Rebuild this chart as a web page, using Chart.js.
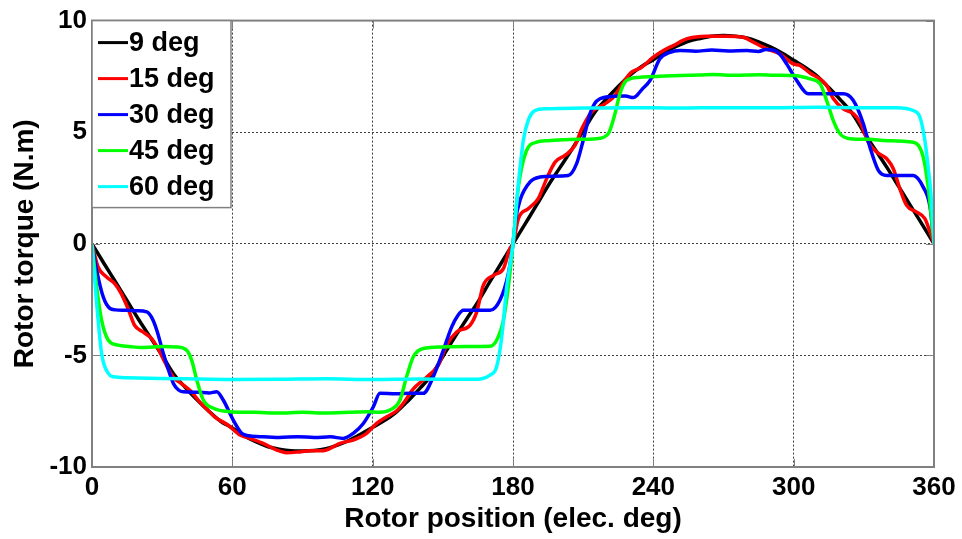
<!DOCTYPE html>
<html>
<head>
<meta charset="utf-8">
<script src="https://cdn.jsdelivr.net/npm/chart.js@4/dist/chart.umd.min.js"></script>
<style>
  html, body { margin: 0; padding: 0; background: #ffffff; }
  #wrap { width: 962px; height: 539px; }
</style>
</head>
<body>
<div id="wrap"><canvas id="c" width="962" height="539"></canvas></div>
<script>
// ---------- data ----------
const seriesNames = ['9 deg', '15 deg', '30 deg', '45 deg', '60 deg'];
const xTicks = [0, 60, 120, 180, 240, 300, 360];
const yTicks = [-10, -5, 0, 5, 10];

// 9 deg (black), rotor position (elec. deg) / torque (N.m)
const x9 = [0,5,10,15,20,25,30,35,40,45,50,55,60,65,70,75,80,85,90,95,100,105,110,115,120,125,130,135,140,145,150,155,160,165,170,175,
  180,185,190,195,200,205,210,215,220,225,230,235,240,245,250,255,260,265,270,275,280,285,290,295,300,305,310,315,320,325,330,335,340,345,350,355,360];
const t9 = [0,-0.86,-1.7,-2.55,-3.4,-4.2,-5.0,-5.85,-6.45,-7.0,-7.5,-7.95,-8.25,-8.6,-8.87,-9.08,-9.2,-9.27,-9.28,-9.26,-9.18,-9.02,-8.8,-8.52,-8.22,-7.92,-7.55,-7.05,-6.5,-5.9,-5.05,-4.2,-3.4,-2.6,-1.72,-0.86,
  0,0.86,1.72,2.6,3.4,4.2,5.05,5.9,6.5,7.05,7.55,7.95,8.25,8.58,8.85,9.07,9.2,9.3,9.33,9.3,9.22,9.05,8.82,8.55,8.22,7.9,7.52,7.0,6.45,5.85,5.0,4.2,3.4,2.55,1.7,0.86,0];

// 15 deg (red)
const x15 = [0,2.6,6.1,9.7,12.5,15.4,18.2,21.8,25.4,28.2,31.1,34.6,38.2,42.5,46,49,52.4,58.1,63.3,67.5,73.2,79,83.2,88,93.2,98.9,101.8,106,111.7,117.4,121.7,126,130.3,133.1,137.4,141.6,144.5,148.1,151.6,155.9,161.6,164.5,167.3,171.6,175.9,178.7,180,
  182.3,186.5,190.8,194.4,198,202.2,206.5,209.4,213.6,219.3,223.6,227.2,230.7,235,240,244.3,248.5,254.2,262.8,271.4,278.5,282.8,288.5,294.1,299.8,302.7,307,311.2,314.1,317,321.2,325.5,328.4,331.9,335.5,339.8,342.6,345.4,348.3,352.6,356.1,358.3,360];
const t15 = [0,-1.04,-1.48,-1.78,-2.23,-2.9,-3.65,-3.95,-4.24,-4.69,-5.29,-5.96,-6.26,-6.63,-7.08,-7.4,-7.75,-8.12,-8.57,-8.72,-8.94,-9.24,-9.36,-9.33,-9.27,-9.27,-9.17,-8.94,-8.79,-8.49,-8.05,-7.75,-7.48,-7.15,-6.5,-6.11,-5.85,-5.44,-4.54,-3.95,-3.65,-3.05,-1.86,-1.41,-1.11,-0.21,0,
  1.13,1.57,2.02,2.92,3.66,3.96,4.41,5.15,5.9,6.27,6.64,7.24,7.69,7.91,8.36,8.66,8.88,9.18,9.3,9.3,9.25,9.03,8.73,8.51,8.06,7.99,7.65,7.39,7.09,6.5,6.05,5.83,5.45,4.55,4.11,3.81,3.36,2.47,1.72,1.42,1.13,0.53,0];

// 30 deg (blue)
const x30 = [0,2,4.8,7.7,10,14.8,19,23.4,25.5,27.7,30.5,34.8,37,39,45,50,53.3,56.1,60.4,64,67,71.8,80,88,95,102,107.4,111.7,116,120.3,123.1,130,136,141.6,145.9,150.2,153.8,156.5,158.8,165,170.2,174.4,178,180,
  181,183,187.3,191.5,197,203.6,207.2,210,212.9,215,217.2,222,228,231.5,232.9,235,238.6,242.8,247.1,251.4,258,265,272,280,285,288,291.3,294,297,301.3,306.2,313,321.2,325.5,329.8,332.6,336.2,339.8,345,351.1,355.4,358.3,360];
const t30 = [0,-1.19,-2.38,-2.9,-2.96,-2.98,-3.0,-3.05,-3.3,-3.87,-4.91,-6.26,-6.55,-6.63,-6.65,-6.68,-6.63,-7.0,-7.9,-8.49,-8.6,-8.64,-8.68,-8.64,-8.68,-8.65,-8.72,-8.49,-8.05,-7.3,-6.7,-6.72,-6.7,-6.7,-5.96,-4.77,-3.72,-3.2,-2.98,-2.98,-2.98,-2.53,-1.33,0,
  1.0,1.95,2.77,2.99,3.03,3.06,3.59,4.63,5.83,6.3,6.5,6.6,6.62,6.55,6.64,6.9,7.32,8.29,8.58,8.66,8.63,8.68,8.64,8.66,8.62,8.7,8.68,8.5,8.06,7.32,6.72,6.72,6.72,6.42,5.38,4.33,3.29,3.06,3.06,3.06,2.54,1.65,0];

// 45 deg (green)
const x45 = [0,2,4.1,7,11.2,16,21,26.2,31,36.2,40.5,42.6,44.8,47.6,51.9,59,70,80,90,100,110,118,123,127.4,131.7,134.5,137.4,141.6,150,160,170.2,173,175.9,178,180,
  182.3,185.8,190.1,195,201.5,208,215.8,220.7,223.6,225.7,228.6,234.3,242,251.4,260,265.6,275,285,292,299.8,307,311.3,314.1,316.9,319.8,324.1,332,340,351.1,355.4,357.5,360];
const t45 = [0,-1.93,-3.42,-4.32,-4.54,-4.6,-4.65,-4.62,-4.6,-4.62,-4.77,-5.21,-6.1,-7.0,-7.37,-7.52,-7.55,-7.58,-7.55,-7.58,-7.55,-7.52,-7.55,-7.45,-7.0,-5.96,-5.06,-4.69,-4.62,-4.6,-4.59,-4.32,-3.42,-1.93,0,
  2.54,4.18,4.55,4.62,4.66,4.68,4.71,4.93,5.83,6.72,7.32,7.46,7.5,7.54,7.56,7.58,7.55,7.57,7.55,7.54,7.39,7.17,6.42,5.53,4.93,4.71,4.68,4.62,4.55,3.88,2.54,0];

// 60 deg (cyan)
const x60 = [0,2,4.1,7,9.1,15,29,40,60,80,100,120,140,155,163,170.2,173,175.2,177.3,180,
  182.3,184.4,186.5,189.4,194.4,210,230,250,270,290,310,330,344,351.1,354,356.1,357.5,358.9,360];
const t60 = [0,-2.68,-4.91,-5.81,-5.96,-6.0,-6.03,-6.05,-6.08,-6.07,-6.05,-6.08,-6.06,-6.07,-6.07,-5.88,-5.51,-4.17,-1.93,0,
  2.69,4.63,5.53,5.97,6.05,6.08,6.1,6.08,6.1,6.1,6.12,6.1,6.1,5.97,5.67,4.63,3.44,1.95,0];

const seriesX = [x9, x15, x30, x45, x60];
const seriesT = [t9, t15, t30, t45, t60];
const seriesColors = ['#000000', '#ff0000', '#0000ff', '#00ff00', '#00ffff'];

// ---------- build chart ----------
function zip(xs, ys) {
  const n = Math.min(xs.length, ys.length);
  const out = [];
  for (let i = 0; i < n; i++) out.push({ x: xs[i], y: ys[i] });
  return out;
}

const datasets = seriesNames.map((name, i) => ({
  label: name,
  data: zip(seriesX[i], seriesT[i]),
  borderColor: seriesColors[i],
  backgroundColor: seriesColors[i],
  borderWidth: 3.5,
  pointRadius: 0,
  fill: false,
  cubicInterpolationMode: 'monotone',
  order: seriesNames.length - i   // later series drawn on top
}));

const FONT = '"Liberation Sans", Arial, Helvetica, sans-serif';

const framePlugin = {
  id: 'frame',
  afterDatasetsDraw(chart) {
    const { ctx, chartArea: a, scales } = chart;
    ctx.save();
    ctx.strokeStyle = '#808080';
    ctx.lineWidth = 1;
    ctx.setLineDash([]);
    ctx.beginPath();
    xTicks.forEach(v => {
      const px = Math.round(scales.x.getPixelForValue(v)) + 0.5;
      ctx.moveTo(px, a.bottom); ctx.lineTo(px, a.bottom - 8);
      ctx.moveTo(px, a.top); ctx.lineTo(px, a.top + 8);
    });
    yTicks.forEach(v => {
      const py = Math.round(scales.y.getPixelForValue(v)) + 0.5;
      ctx.moveTo(a.left, py); ctx.lineTo(a.left + 8, py);
      ctx.moveTo(a.right, py); ctx.lineTo(a.right - 8, py);
    });
    ctx.stroke();
    ctx.lineWidth = 2;
    ctx.strokeRect(a.left, a.top, a.right - a.left, a.bottom - a.top);
    ctx.restore();
  },
  afterDraw(chart) {
    // legend box in the upper-left corner of the plot area
    const { ctx, chartArea: a } = chart;
    const boxW = 139, boxH = 187;
    ctx.save();
    ctx.fillStyle = '#ffffff';
    ctx.fillRect(a.left, a.top, boxW, boxH);
    ctx.strokeStyle = '#808080';
    ctx.lineWidth = 1.5;
    ctx.strokeRect(a.left, a.top, boxW, boxH);
    ctx.font = 'bold 27px ' + FONT;
    ctx.textAlign = 'left';
    ctx.textBaseline = 'middle';
    seriesNames.forEach((name, i) => {
      const cy = a.top + 22 + i * 36;
      ctx.strokeStyle = seriesColors[i];
      ctx.lineWidth = 3;
      ctx.beginPath();
      ctx.moveTo(a.left + 6, cy);
      ctx.lineTo(a.left + 36, cy);
      ctx.stroke();
      ctx.fillStyle = '#000000';
      ctx.fillText(name, a.left + 37, cy + 1);
    });
    ctx.restore();
  }
};

const gridColor = (edges) => (c) => {
  if (c.tick && edges.includes(c.tick.value)) return 'rgba(0,0,0,0)';
  return '#404040';
};

new Chart(document.getElementById('c'), {
  type: 'line',
  data: { datasets },
  options: {
    responsive: false,
    animation: false,
    events: [],
    layout: { padding: { top: 20, right: 28, left: 0, bottom: 0 } },
    plugins: { legend: { display: false }, tooltip: { enabled: false } },
    scales: {
      x: {
        type: 'linear',
        min: 0, max: 360,
        afterBuildTicks: (s) => { s.ticks = xTicks.map(v => ({ value: v })); },
        afterFit: (s) => { s.height = 72; },
        grid: { color: gridColor([0, 360]), lineWidth: 1, drawTicks: false },
        border: { display: false, dash: [2, 2] },
        ticks: { color: '#000', padding: 5, font: { family: FONT, size: 26, weight: 'bold' }, maxRotation: 0 },
        title: { display: true, text: 'Rotor position (elec. deg)', color: '#000',
                 font: { family: FONT, size: 28, weight: 'bold' }, padding: { top: 0, bottom: 3 } }
      },
      y: {
        min: -10, max: 10,
        afterBuildTicks: (s) => { s.ticks = yTicks.map(v => ({ value: v })); },
        afterFit: (s) => { s.width = 92; },
        grid: { color: gridColor([-10, 10]), lineWidth: 1, drawTicks: false },
        border: { display: false, dash: [2, 2] },
        ticks: { color: '#000', padding: 5, font: { family: FONT, size: 26, weight: 'bold' } },
        title: { display: true, text: 'Rotor torque (N.m)', color: '#000',
                 font: { family: FONT, size: 28, weight: 'bold' }, padding: { top: 8, bottom: 0 } }
      }
    }
  },
  plugins: [framePlugin]
});
</script>
</body>
</html>
